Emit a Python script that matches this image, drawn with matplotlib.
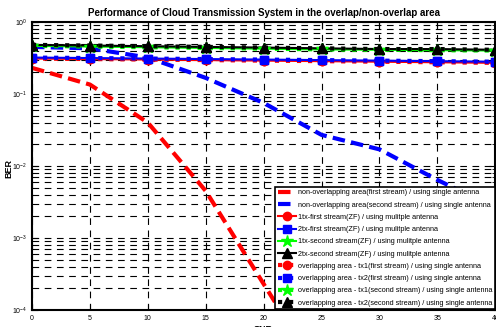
import numpy as np
import matplotlib
matplotlib.use("Agg")
import matplotlib.pyplot as plt
from matplotlib.ticker import LogLocator, NullFormatter

plt.rcParams['font.family'] = ['Liberation Sans', 'DejaVu Sans']

snr = [0, 5, 10, 15, 20, 25, 30, 35, 40]

# single antenna, non-overlapping area
non_ov_first = [0.23, 0.135, 0.04, 0.0045, 0.00023, 1.2e-5, 6e-7, 3e-8, 1e-9]
non_ov_second = [0.45, 0.43, 0.32, 0.167, 0.075, 0.027, 0.017, 0.0064, 0.0026]

# ZF, multiple antenna
zf_1tx_first = [0.31, 0.305, 0.30, 0.295, 0.29, 0.285, 0.28, 0.275, 0.27]
zf_2tx_first = [0.32, 0.315, 0.31, 0.305, 0.30, 0.295, 0.29, 0.285, 0.28]
zf_1tx_second = [0.465, 0.455, 0.445, 0.435, 0.425, 0.415, 0.41, 0.405, 0.40]
zf_2tx_second = [0.48, 0.47, 0.46, 0.45, 0.44, 0.43, 0.42, 0.42, 0.41]

# overlapping area, single antenna
ov_tx1_first = [0.31, 0.305, 0.30, 0.295, 0.29, 0.285, 0.28, 0.275, 0.27]
ov_tx2_first = [0.32, 0.315, 0.31, 0.305, 0.30, 0.295, 0.29, 0.285, 0.28]
ov_tx1_second = [0.465, 0.455, 0.445, 0.435, 0.425, 0.415, 0.41, 0.405, 0.40]
ov_tx2_second = [0.48, 0.47, 0.46, 0.45, 0.44, 0.43, 0.42, 0.42, 0.41]

labels = [
    'non-overlapping area(first stream) / using single antenna',
    'non-overlapping area(second stream) / using single antenna',
    '1tx-first stream(ZF) / using mulitple antenna',
    '2tx-first stream(ZF) / using mulitple antenna',
    '1tx-second stream(ZF) / using mulitple antenna',
    '2tx-second stream(ZF) / using mulitple antenna',
    'overlapping area - tx1(first stream) / using single antenna',
    'overlapping area - tx2(first stream) / using single antenna',
    'overlapping area - tx1(second stream) / using single antenna',
    'overlapping area - tx2(second stream) / using single antenna',
]

fig = plt.figure(figsize=(4.96, 3.27), dpi=100)
ax = fig.add_axes([0.0645, 0.052, 0.934, 0.881])

ax.semilogy(snr, non_ov_first, 'r--', lw=3, dashes=(3, 1.5), label=labels[0])
ax.semilogy(snr, non_ov_second, 'b--', lw=3, dashes=(3, 1.5), label=labels[1])
ax.semilogy(snr, zf_1tx_first, 'r-o', lw=1.5, ms=6, label=labels[2])
ax.semilogy(snr, zf_2tx_first, 'b-s', lw=1.5, ms=6, label=labels[3])
ax.semilogy(snr, zf_1tx_second, '-*', color='#00ff00', lw=1.5, ms=9, label=labels[4])
ax.semilogy(snr, zf_2tx_second, 'k-^', lw=1.5, ms=7, label=labels[5])
ax.semilogy(snr, ov_tx1_first, 'r:o', lw=3, ms=6, label=labels[6])
ax.semilogy(snr, ov_tx2_first, 'b:s', lw=3, ms=6, label=labels[7])
ax.semilogy(snr, ov_tx1_second, ':*', color='#00ff00', lw=3, ms=9, label=labels[8])
ax.semilogy(snr, ov_tx2_second, 'k:^', lw=3, ms=7, label=labels[9])

ax.set_xlim(0, 40)
ax.set_ylim(1e-4, 1)
ax.set_xticks(snr)
ax.yaxis.set_major_locator(LogLocator(base=10, numticks=10))
ax.yaxis.set_minor_locator(LogLocator(base=10, subs=np.arange(2, 10), numticks=10))
ax.yaxis.set_minor_formatter(NullFormatter())
ax.tick_params(axis='both', which='both', direction='in', labelsize=5, top=True, right=True)
ax.tick_params(which='major', length=4)
ax.tick_params(which='minor', length=2)
ax.grid(True, which='major', axis='x', color='k', ls=(0, (6, 5)), lw=0.8)
ax.grid(True, which='both', axis='y', color='k', ls=(0, (6, 5)), lw=0.8)
for s in ax.spines.values():
    s.set_linewidth(1.5)

ax.set_title('Performance of Cloud Transmission System in the overlap/non-overlap area',
             fontsize=7, fontweight='bold', pad=4)
ax.set_xlabel('SNR', fontsize=6.5, fontweight='bold', labelpad=2)
ax.set_ylabel('BER', fontsize=6.5, fontweight='bold')
ax.yaxis.set_label_coords(-0.04, 0.49)

leg = ax.legend(loc='lower right', fontsize=5.2, handlelength=2.5, handletextpad=0.2,
                labelspacing=0.72, borderpad=0.35, borderaxespad=0.1, fancybox=False,
                framealpha=1, edgecolor='k')
leg.get_frame().set_linewidth(1.2)

fig.savefig('out.png', dpi=100)
